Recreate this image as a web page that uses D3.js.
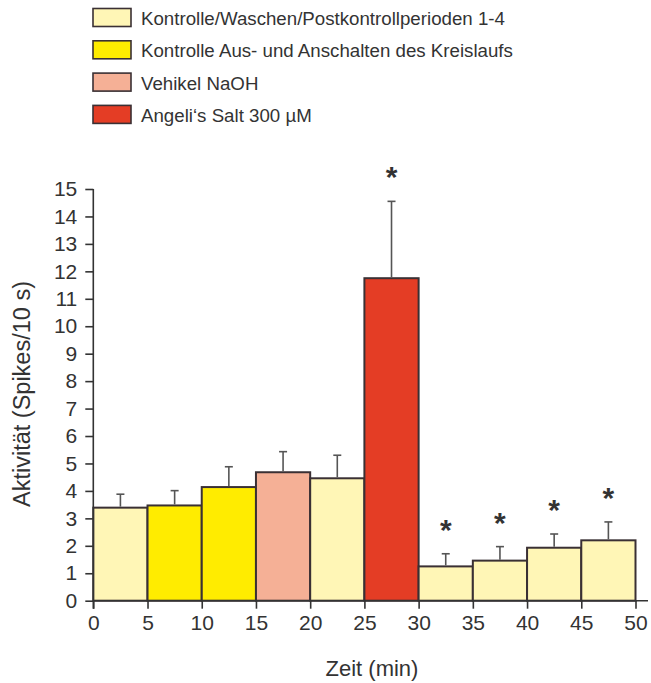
<!DOCTYPE html>
<html>
<head>
<meta charset="utf-8">
<script src="https://cdn.jsdelivr.net/npm/d3@7"></script>
<style>
  html, body { margin: 0; padding: 0; background: #fff; }
  svg { display: block; font-family: "Liberation Sans", Arial, sans-serif; }
</style>
</head>
<body>
<svg id="chart" width="651" height="683"></svg>
<script>
// 5-minute bins, start of each bin (min)
const binStart = [0, 5, 10, 15, 20, 25, 30, 35, 40, 45];
// mean activity (spikes / 10 s)
const activity = [3.39, 3.47, 4.14, 4.68, 4.46, 11.75, 1.25, 1.46, 1.93, 2.20];
// upper end of the error bar (mean + SEM)
const errorTop = [3.88, 4.01, 4.88, 5.43, 5.30, 14.55, 1.71, 1.97, 2.43, 2.87];
// condition of each bin (index into conditions)
const binCondition = [0, 1, 1, 2, 0, 3, 0, 0, 0, 0];
// significance marker per bin
const significant = [false, false, false, false, false, true, true, true, true, true];

const conditions = [
  "Kontrolle/Waschen/Postkontrollperioden 1-4",
  "Kontrolle Aus- und Anschalten des Kreislaufs",
  "Vehikel NaOH",
  "Angeli\u2018s Salt 300 \u00b5M"
];
const conditionColors = ["#fff6b6", "#ffec00", "#f5b096", "#e43d25"];

const yTicks = d3.range(0, 16, 1);
const xTicks = d3.range(0, 51, 5);

const svg = d3.select("#chart");
const ink = "#333";
const barStroke = "#3a3034";

const x = d3.scaleLinear().domain([0, 50]).range([93.3, 635.5]);
const y = d3.scaleLinear().domain([0, 15]).range([600.7, 189]);

// legend
const legend = svg.append("g").attr("class", "legend");
conditions.forEach((name, i) => {
  const gy = 8.5 + i * 32.3;
  legend.append("rect")
    .attr("x", 93).attr("y", gy).attr("width", 38).attr("height", 18)
    .attr("fill", conditionColors[i]).attr("stroke", barStroke).attr("stroke-width", 1.6);
  legend.append("text")
    .attr("x", 141).attr("y", gy + 16.5)
    .attr("font-size", 18.7).attr("fill", ink)
    .text(name);
});

// bars
const bw = 5;
const bars = svg.append("g").attr("class", "bars");
bars.selectAll("rect").data(binStart).join("rect")
  .attr("x", d => x(d))
  .attr("y", (d, i) => y(activity[i]))
  .attr("width", d => x(d + bw) - x(d))
  .attr("height", (d, i) => y(0) - y(activity[i]))
  .attr("fill", (d, i) => conditionColors[binCondition[i]])
  .attr("stroke", barStroke).attr("stroke-width", 2);

// error bars (upper only)
const err = svg.append("g").attr("class", "errors").attr("stroke", "#555").attr("stroke-width", 1.6);
binStart.forEach((d, i) => {
  const cx = x(d + bw / 2);
  err.append("line").attr("x1", cx).attr("x2", cx)
    .attr("y1", y(activity[i]) - 1).attr("y2", y(errorTop[i]));
  err.append("line").attr("x1", cx - 4).attr("x2", cx + 4)
    .attr("y1", y(errorTop[i])).attr("y2", y(errorTop[i]));
});

// significance asterisks
svg.append("g").selectAll("text")
  .data(binStart.filter((d, i) => significant[i]))
  .join("text")
  .attr("x", d => x(d + bw / 2))
  .attr("y", d => y(errorTop[binStart.indexOf(d)]) - 14)
  .attr("text-anchor", "middle")
  .attr("font-size", 30).attr("font-weight", "bold").attr("fill", ink)
  .text("*");

// y axis
const yAxis = svg.append("g").attr("transform", `translate(${x(0)},0)`)
  .call(d3.axisLeft(y).tickValues(yTicks).tickSize(8).tickPadding(8));
// x axis
const xAxis = svg.append("g").attr("transform", `translate(0,${y(0)})`)
  .call(d3.axisBottom(x).tickValues(xTicks).tickSize(8).tickPadding(6));

[yAxis, xAxis].forEach(g => {
  g.select(".domain").remove();
  g.selectAll(".tick line").attr("stroke", ink).attr("stroke-width", 1.6);
  g.selectAll(".tick text").attr("fill", ink).attr("font-size", 21)
    .attr("font-family", "Liberation Sans, Arial, sans-serif");
});
svg.append("line").attr("x1", x(0)).attr("x2", x(0)).attr("y1", y(15)).attr("y2", y(0) + 8)
  .attr("stroke", ink).attr("stroke-width", 1.6);
svg.append("line").attr("x1", x(0)).attr("x2", 648).attr("y1", y(0)).attr("y2", y(0))
  .attr("stroke", ink).attr("stroke-width", 1.6);

// axis titles
svg.append("text")
  .attr("x", 372).attr("y", 676)
  .attr("text-anchor", "middle").attr("font-size", 22).attr("fill", ink)
  .text("Zeit (min)");
svg.append("text")
  .attr("transform", `translate(30,394) rotate(-90)`)
  .attr("text-anchor", "middle").attr("font-size", 23.5).attr("fill", ink)
  .text("Aktivität (Spikes/10 s)");
</script>
</body>
</html>
